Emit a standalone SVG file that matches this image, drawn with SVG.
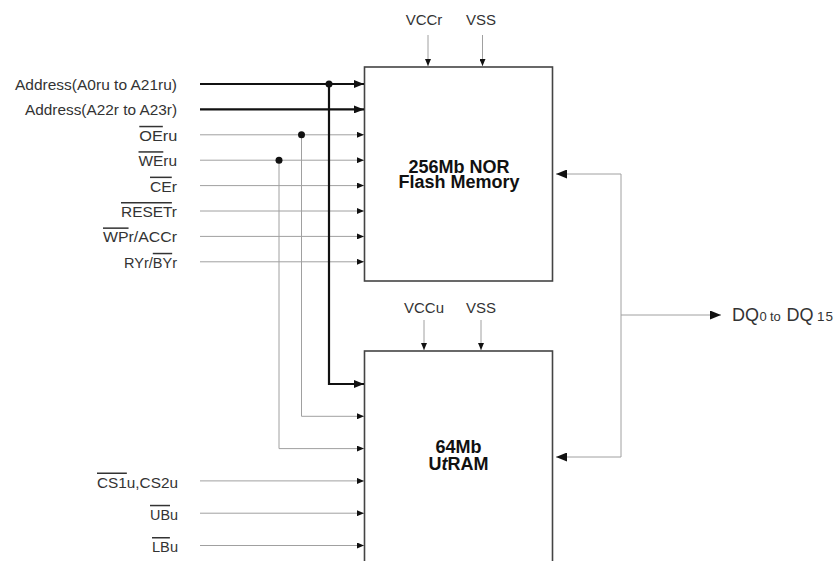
<svg xmlns="http://www.w3.org/2000/svg" width="840" height="561" viewBox="0 0 840 561">
<style>
.lbl{font-family:"Liberation Sans",Arial,sans-serif;font-size:15px;fill:#333}
.ttl{font-family:"Liberation Sans",Arial,sans-serif;font-size:18px;font-weight:bold;fill:#111;text-anchor:middle}
.ov{text-decoration:overline}
.box{fill:#fff;stroke:#444;stroke-width:1.6}
.thick{stroke:#111;stroke-width:2.2;fill:none}
.thin{stroke:#a0a0a0;stroke-width:1;fill:none}
.dot{fill:#111}
</style>
<defs>
<marker id="ab" viewBox="0 0 10 8" refX="10" refY="4" markerWidth="10" markerHeight="8" markerUnits="userSpaceOnUse" orient="auto"><path d="M0,0 L10,4 L0,8 z" fill="#111"/></marker>
<marker id="as" viewBox="0 0 7 6" refX="7" refY="3" markerWidth="7" markerHeight="6" markerUnits="userSpaceOnUse" orient="auto"><path d="M0,0 L7,3 L0,6 z" fill="#111"/></marker>
<marker id="ar" viewBox="0 0 11 9" refX="11" refY="4.5" markerWidth="11" markerHeight="9" markerUnits="userSpaceOnUse" orient="auto"><path d="M0,0 L11,4.5 L0,9 z" fill="#111"/></marker>
</defs>

<g id="flash">
<rect class="box" x="364.5" y="67" width="188" height="214"/>
<text class="ttl" x="459" y="172.5">256Mb NOR</text>
<text class="ttl" x="459" y="188">Flash Memory</text>
</g>

<g id="utram">
<rect class="box" x="364.5" y="351" width="188" height="240"/>
<text class="ttl" x="458.5" y="453">64Mb</text>
<text class="ttl" x="458.5" y="469.5">U<tspan font-style="italic">t</tspan>RAM</text>
</g>

<g id="power">
<text class="lbl" x="424" y="25" text-anchor="middle">VCCr</text>
<text class="lbl" x="481" y="25" text-anchor="middle">VSS</text>
<text class="lbl" x="424" y="313" text-anchor="middle">VCCu</text>
<text class="lbl" x="481" y="313" text-anchor="middle">VSS</text>
</g>

<g id="signals">
<text class="lbl" x="15" y="90" textLength="162" lengthAdjust="spacingAndGlyphs">Address(A0ru to A21ru)</text>
<text class="lbl" x="25" y="115.4" textLength="152" lengthAdjust="spacingAndGlyphs">Address(A22r to A23r)</text>
<text class="lbl" x="139.3" y="140.8" textLength="38" lengthAdjust="spacingAndGlyphs"><tspan class="ov">OE</tspan>ru</text>
<text class="lbl" x="138.5" y="166.2" textLength="38.5" lengthAdjust="spacingAndGlyphs"><tspan class="ov">WE</tspan>ru</text>
<text class="lbl" x="150" y="191.6" textLength="27" lengthAdjust="spacingAndGlyphs"><tspan class="ov">CE</tspan>r</text>
<text class="lbl" x="121" y="217" textLength="56" lengthAdjust="spacingAndGlyphs"><tspan class="ov">RESET</tspan>r</text>
<text class="lbl" x="103" y="242.4" textLength="74" lengthAdjust="spacingAndGlyphs"><tspan class="ov">WP</tspan>r/ACCr</text>
<text class="lbl" x="124" y="267.8" textLength="53" lengthAdjust="spacingAndGlyphs">RYr/<tspan class="ov">BY</tspan>r</text>
<text class="lbl" x="97" y="487.5" textLength="81" lengthAdjust="spacingAndGlyphs"><tspan class="ov">CS1</tspan>u,CS2u</text>
<text class="lbl" x="150" y="519.8" textLength="28" lengthAdjust="spacingAndGlyphs"><tspan class="ov">UB</tspan>u</text>
<text class="lbl" x="152" y="552" textLength="26" lengthAdjust="spacingAndGlyphs"><tspan class="ov">LB</tspan>u</text>
<text class="lbl" x="732" y="321"><tspan font-size="18">DQ</tspan><tspan x="759.5" font-size="13">0 </tspan><tspan x="770" font-size="13">to </tspan><tspan x="786.5" font-size="18">DQ</tspan><tspan x="817 825.5" font-size="13.5">15</tspan></text>
</g>

<g id="connectors">
<path class="thick" d="M200,84 H364" marker-end="url(#ab)"/>
<path class="thick" d="M200,109.4 H364" marker-end="url(#ab)"/>
<path class="thin" d="M200,134.8 H364" marker-end="url(#as)"/>
<path class="thin" d="M200,160.2 H364" marker-end="url(#as)"/>
<path class="thin" d="M200,185.6 H364" marker-end="url(#as)"/>
<path class="thin" d="M200,211 H364" marker-end="url(#as)"/>
<path class="thin" d="M200,236.4 H364" marker-end="url(#as)"/>
<path class="thin" d="M200,261.8 H364" marker-end="url(#as)"/>

<path class="thick" d="M329,84 V384 H364" marker-end="url(#ab)"/>
<path class="thin" d="M301.5,134.8 V416.3 H364" marker-end="url(#as)"/>
<path class="thin" d="M279,160.2 V448.6 H364" marker-end="url(#as)"/>
<path class="thin" d="M200,480.9 H364" marker-end="url(#as)"/>
<path class="thin" d="M200,513.2 H364" marker-end="url(#as)"/>
<path class="thin" d="M200,545.5 H364" marker-end="url(#as)"/>

<circle class="dot" cx="329" cy="84" r="3.5"/>
<circle class="dot" cx="301.5" cy="134.8" r="3.5"/>
<circle class="dot" cx="279" cy="160.2" r="3.5"/>

<path class="thin" d="M428,35 V66" marker-end="url(#as)"/>
<path class="thin" d="M482.5,35 V66" marker-end="url(#as)"/>
<path class="thin" d="M424,320 V350" marker-end="url(#as)"/>
<path class="thin" d="M481,320 V350" marker-end="url(#as)"/>

<path class="thin" d="M621,174 V457"/>
<path class="thin" d="M621,174 H556" marker-end="url(#ar)"/>
<path class="thin" d="M621,457 H556" marker-end="url(#ar)"/>
<path class="thin" d="M621,315 H721" marker-end="url(#ar)"/>
</g>
</svg>
